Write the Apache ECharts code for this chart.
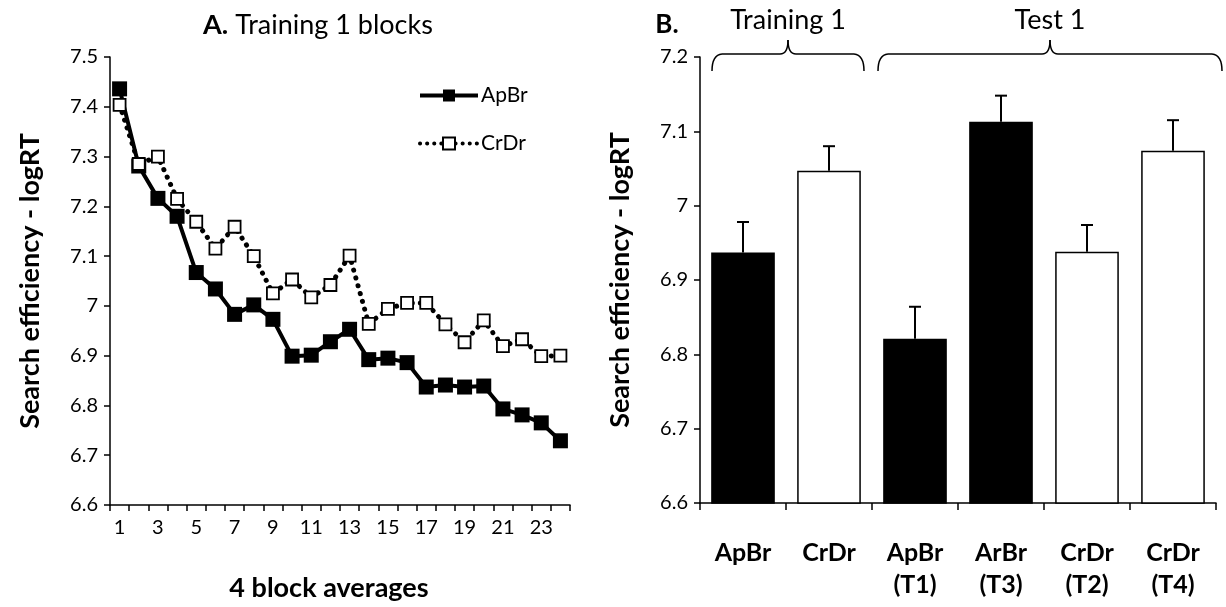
<!DOCTYPE html>
<html>
<head>
<meta charset="utf-8">
<script src="https://cdn.jsdelivr.net/npm/echarts@6/dist/echarts.min.js"></script>
<style>
  html, body { margin: 0; padding: 0; background: #fff; }
  #chart { width: 1226px; height: 607px; }
</style>
</head>
<body>
<div id="chart"></div>
<script>
// ---- Panel A data ----
const blockLabels = ['1','2','3','4','5','6','7','8','9','10','11','12','13','14','15','16','17','18','19','20','21','22','23','24'];
const apbrBlocks = [7.436,7.281,7.216,7.180,7.067,7.034,6.983,7.002,6.973,6.899,6.901,6.928,6.953,6.892,6.895,6.886,6.837,6.841,6.837,6.839,6.793,6.781,6.765,6.729];
const crdrBlocks = [7.404,7.285,7.300,7.215,7.169,7.115,7.159,7.100,7.025,7.053,7.017,7.042,7.101,6.964,6.994,7.006,7.006,6.963,6.927,6.971,6.919,6.933,6.899,6.900];
const leftTicks = { min: 6.6, max: 7.5, step: 0.1 };

// ---- Panel B data ----
const condLabels = ['ApBr','CrDr','ApBr\n(T1)','ArBr\n(T3)','CrDr\n(T2)','CrDr\n(T4)'];
const condMeans  = [6.937, 7.047, 6.821, 7.113, 6.938, 7.074];
const condErrTop = [6.978, 7.080, 6.864, 7.148, 6.974, 7.115];
const rightTicks = { min: 6.6, max: 7.2, step: 0.1 };
const groupLabels = ['Training 1', 'Test 1'];

const FONT = 'Lato, "Open Sans", sans-serif';
const chart = echarts.init(document.getElementById('chart'), null, { renderer: 'canvas' });

const axisLineStyle = { lineStyle: { color: '#000', width: 1.5 } };
const dottedLine = { color: '#000', width: 5, type: [0.1, 8], cap: 'round' };

const option = {
  animation: false,
  backgroundColor: '#fff',
  textStyle: { fontFamily: FONT, color: '#000' },
  grid: [
    { left: 110, top: 57, width: 460, height: 450, containLabel: false },
    { left: 700, top: 57, width: 516, height: 446, containLabel: false }
  ],
  legend: {
    data: [
      { name: 'ApBr', lineStyle: { color: '#000', width: 4 } },
      { name: 'CrDr', lineStyle: { color: '#000', width: 4, type: [0.1, 7], cap: 'round' } }
    ],
    orient: 'vertical',
    left: 413,
    top: 80,
    itemWidth: 58,
    itemHeight: 15,
    itemGap: 27,
    textStyle: { fontFamily: FONT, fontSize: 21, color: '#000', padding: [0, 0, 0, -2] }
  },
  xAxis: [
    {
      type: 'category', gridIndex: 0, data: blockLabels, boundaryGap: true,
      axisLine: axisLineStyle,
      axisTick: { show: true, interval: 0, length: 6, lineStyle: { color: '#000', width: 1.5 } },
      axisLabel: { interval: 1, fontSize: 20, color: '#000', margin: 13, fontFamily: FONT },
      name: '4 block averages', nameLocation: 'middle', nameGap: 70,
      nameTextStyle: { fontSize: 27, fontWeight: 'bold', color: '#000', fontFamily: FONT,
                       padding: [0, 22, 0, 0] }
    },
    {
      type: 'category', gridIndex: 1, data: condLabels, boundaryGap: true,
      axisLine: axisLineStyle,
      axisTick: { show: true, interval: 0, length: 7, lineStyle: { color: '#000', width: 1.5 } },
      axisLabel: { interval: 0, fontSize: 25, fontWeight: 'bold', color: '#000', margin: 34,
                   lineHeight: 32, verticalAlign: 'top', fontFamily: FONT }
    }
  ],
  yAxis: [
    {
      type: 'value', gridIndex: 0, min: leftTicks.min, max: leftTicks.max, interval: leftTicks.step,
      axisLine: { show: true, lineStyle: { color: '#000', width: 1.5 } },
      axisTick: { show: true, length: 6, lineStyle: { color: '#000', width: 1.5 } },
      splitLine: { show: false },
      axisLabel: { fontSize: 20, color: '#000', margin: 12, fontFamily: FONT },
      name: 'Search efficiency - logRT', nameLocation: 'middle', nameGap: 66, nameRotate: 90,
      nameTextStyle: { fontSize: 27, fontWeight: 'bold', color: '#000', fontFamily: FONT }
    },
    {
      type: 'value', gridIndex: 1, min: rightTicks.min, max: rightTicks.max, interval: rightTicks.step,
      axisLine: { show: true, lineStyle: { color: '#000', width: 1.5 } },
      axisTick: { show: true, length: 6, lineStyle: { color: '#000', width: 1.5 } },
      splitLine: { show: false },
      axisLabel: { fontSize: 20, color: '#000', margin: 12, fontFamily: FONT },
      name: 'Search efficiency - logRT', nameLocation: 'middle', nameGap: 66, nameRotate: 90,
      nameTextStyle: { fontSize: 27, fontWeight: 'bold', color: '#000', fontFamily: FONT }
    }
  ],
  series: [
    {
      name: 'ApBr', type: 'line', xAxisIndex: 0, yAxisIndex: 0, data: apbrBlocks,
      symbol: 'rect', symbolSize: 15, z: 2, showAllSymbol: true,
      itemStyle: { color: '#000' },
      lineStyle: { color: '#000', width: 4 }
    },
    {
      name: 'CrDr', type: 'line', xAxisIndex: 0, yAxisIndex: 0, data: crdrBlocks,
      symbol: 'rect', symbolSize: 12, z: 3, showAllSymbol: true,
      itemStyle: { color: '#fff', borderColor: '#000', borderWidth: 1.8 },
      lineStyle: dottedLine
    },
    {
      name: 'means', type: 'bar', xAxisIndex: 1, yAxisIndex: 1, data: condMeans,
      barCategoryGap: '26%',
      itemStyle: {
        color: p => condLabels[p.dataIndex].startsWith('Cr') ? '#fff' : '#000',
        borderColor: '#000', borderWidth: 1.5
      }
    },
    {
      name: 'err', type: 'custom', xAxisIndex: 1, yAxisIndex: 1, z: 5,
      data: condMeans.map((m, i) => [i, m, condErrTop[i]]),
      renderItem: function (params, api) {
        const base = api.coord([api.value(0), api.value(1)]);
        const top = api.coord([api.value(0), api.value(2)]);
        const cap = 6;
        const st = { stroke: '#000', lineWidth: 2 };
        return {
          type: 'group',
          children: [
            { type: 'line', shape: { x1: base[0], y1: base[1], x2: top[0], y2: top[1] }, style: st },
            { type: 'line', shape: { x1: top[0] - cap, y1: top[1], x2: top[0] + cap, y2: top[1] }, style: st }
          ]
        };
      }
    }
  ]
};
chart.setOption(option);

// Panel titles and group braces (annotations positioned from the axis scale)
const c0 = chart.convertToPixel({ xAxisIndex: 1 }, 0);
const c1 = chart.convertToPixel({ xAxisIndex: 1 }, 1);
const band = c1 - c0;
const left0 = c0 - band / 2;
const trainL = left0 + 12, trainR = left0 + 2 * band - 8;
const testL = left0 + 2 * band + 6, testR = left0 + 6 * band + 6;
const braceStyle = { stroke: '#000', lineWidth: 1.5, fill: null };
function brace(x1, x2, yb) {
  const tip = (x1 + x2) / 2;
  return {
    type: 'group',
    children: [
      { type: 'bezierCurve', shape: { x1: x1, y1: yb + 17, cpx1: x1, cpy1: yb + 1, x2: x1 + 10, y2: yb }, style: braceStyle },
      { type: 'line', shape: { x1: x1 + 10, y1: yb, x2: tip - 8, y2: yb }, style: braceStyle },
      { type: 'bezierCurve', shape: { x1: tip - 8, y1: yb, cpx1: tip, cpy1: yb, x2: tip, y2: yb - 14 }, style: braceStyle },
      { type: 'bezierCurve', shape: { x1: tip + 8, y1: yb, cpx1: tip, cpy1: yb, x2: tip, y2: yb - 14 }, style: braceStyle },
      { type: 'line', shape: { x1: tip + 8, y1: yb, x2: x2 - 10, y2: yb }, style: braceStyle },
      { type: 'bezierCurve', shape: { x1: x2, y1: yb + 17, cpx1: x2, cpy1: yb + 1, x2: x2 - 10, y2: yb }, style: braceStyle }
    ]
  };
}
const yb = 54;
chart.setOption({
  graphic: [
    {
      type: 'text', x: 318, y: 25,
      style: {
        text: '{b|A.} Training 1 blocks',
        align: 'center', verticalAlign: 'middle',
        fontSize: 27, fontFamily: FONT, fill: '#000',
        rich: { b: { fontWeight: 'bold', fontSize: 27, fontFamily: FONT } }
      }
    },
    {
      type: 'text', x: 667, y: 25,
      style: { text: 'B.', align: 'center', verticalAlign: 'middle',
               fontSize: 26, fontWeight: 'bold', fontFamily: FONT, fill: '#000' }
    },
    {
      type: 'text', x: (trainL + trainR) / 2, y: 20,
      style: { text: groupLabels[0], align: 'center', verticalAlign: 'middle',
               fontSize: 27, fontFamily: FONT, fill: '#000' }
    },
    {
      type: 'text', x: (testL + testR) / 2, y: 20,
      style: { text: groupLabels[1], align: 'center', verticalAlign: 'middle',
               fontSize: 27, fontFamily: FONT, fill: '#000' }
    },
    brace(trainL, trainR, yb),
    brace(testL, testR, yb)
  ]
});
</script>
</body>
</html>
